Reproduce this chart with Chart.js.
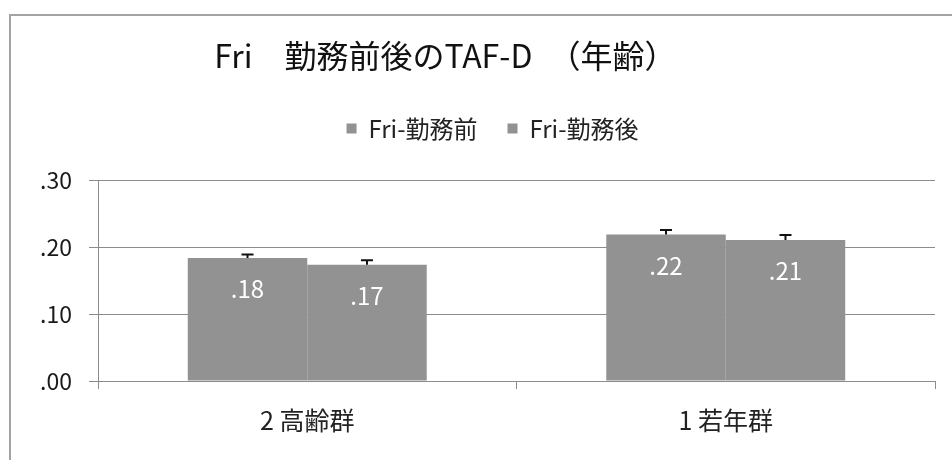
<!DOCTYPE html>
<html lang="ja">
<head>
<meta charset="UTF-8">
<title>Fri 勤務前後のTAF-D（年齢）</title>
<script src="https://cdn.jsdelivr.net/npm/chart.js"></script>
<style>
  body { margin: 0; background: #fff; }
  #wrap { position: relative; width: 952px; height: 460px; overflow: hidden; }
  #frame { position: absolute; left: 9px; top: 14px; width: 1000px; height: 500px;
           border-left: 2px solid #a3a3a3; border-top: 2px solid #a3a3a3; }
  #box { position: absolute; left: 0; top: 0; width: 952px; height: 460px; }
</style>
</head>
<body>
<div id="wrap">
  <div id="frame"></div>
  <div id="box"><canvas id="tafChart"></canvas></div>
</div>
<script>
// data
const categories = ['2 高齢群', '1 若年群'];
const seriesNames = ['Fri-勤務前', 'Fri-勤務後'];
const beforeValues = [0.184, 0.219];
const afterValues = [0.174, 0.211];
const beforeErrors = [0.005, 0.007];
const afterErrors = [0.0065, 0.0075];
const yMin = 0, yMax = 0.3, yStep = 0.1;

const FONT = '"Noto Sans CJK JP", "Noto Sans", sans-serif';
const BAR = '#929292';

// .18 style labels, no leading zero
function fmt(v) {
    return v.toFixed(2).replace(/^0/, '');
}

// error bar (plus side only) and white value label inside each bar
const errorBars = {
    id: 'errorBars',
    afterDatasetsDraw(chart) {
        const ctx = chart.ctx;
        const y = chart.scales.y;
        chart.data.datasets.forEach((ds, i) => {
            chart.getDatasetMeta(i).data.forEach((bar, j) => {
                const top = y.getPixelForValue(ds.data[j] + ds.errors[j]);
                ctx.save();
                ctx.strokeStyle = '#111';
                ctx.lineWidth = 2;
                ctx.beginPath();
                ctx.moveTo(bar.x, bar.y);
                ctx.lineTo(bar.x, top);
                ctx.moveTo(bar.x - 6, top);
                ctx.lineTo(bar.x + 6, top);
                ctx.stroke();
                ctx.fillStyle = '#fff';
                ctx.font = '24px ' + FONT;
                ctx.textAlign = 'center';
                ctx.textBaseline = 'middle';
                ctx.fillText(fmt(ds.data[j]), bar.x, bar.y + 31);
                ctx.restore();
            });
        });
    }
};

// extra room between legend and plot, and let the y labels use the left margin
const layoutTweaks = {
    id: 'layoutTweaks',
    beforeInit(chart) {
        const fit = chart.legend.fit;
        chart.legend.fit = function () {
            fit.call(this);
            this.height += 30;
        };
    },
    afterLayout(chart) {
        chart.scales.y.left = 0;
    }
};

new Chart(document.getElementById('tafChart'), {
    type: 'bar',
    data: {
        labels: categories,
        datasets: [{
            label: seriesNames[0],
            data: beforeValues,
            errors: beforeErrors,
            backgroundColor: BAR
        }, {
            label: seriesNames[1],
            data: afterValues,
            errors: afterErrors,
            backgroundColor: BAR
        }]
    },
    options: {
        responsive: true,
        maintainAspectRatio: false,
        animation: false,
        categoryPercentage: 0.571,
        barPercentage: 1.0,
        layout: { padding: { left: 50, right: 17, top: 0, bottom: 9 } },
        plugins: {
            title: {
                display: true,
                text: 'Fri　勤務前後のTAF-D　（年齢）　　　  ',
                color: '#111',
                font: { family: FONT, size: 32, weight: 'normal' },
                padding: { top: 37, bottom: 11 }
            },
            legend: {
                display: true,
                labels: {
                    color: '#222',
                    boxWidth: 10,
                    boxHeight: 10,
                    padding: 30,
                    font: { family: FONT, size: 24 }
                }
            },
            tooltip: { enabled: false }
        },
        scales: {
            x: {
                grid: { display: true, drawOnChartArea: false, drawTicks: true, tickLength: 8, color: '#8c8c8c' },
                border: { color: '#8c8c8c' },
                ticks: { color: '#222', padding: 16, font: { family: FONT, size: 25 } }
            },
            y: {
                min: yMin,
                max: yMax,
                afterFit(scale) { scale.width = 48; },
                grid: { color: '#8c8c8c', tickLength: 9 },
                border: { color: '#8c8c8c' },
                ticks: {
                    stepSize: yStep,
                    color: '#1a1a1a',
                    padding: 17,
                    font: { family: FONT, size: 23 },
                    callback: v => fmt(v)
                }
            }
        }
    },
    plugins: [errorBars, layoutTweaks]
});
</script>
</body>
</html>
